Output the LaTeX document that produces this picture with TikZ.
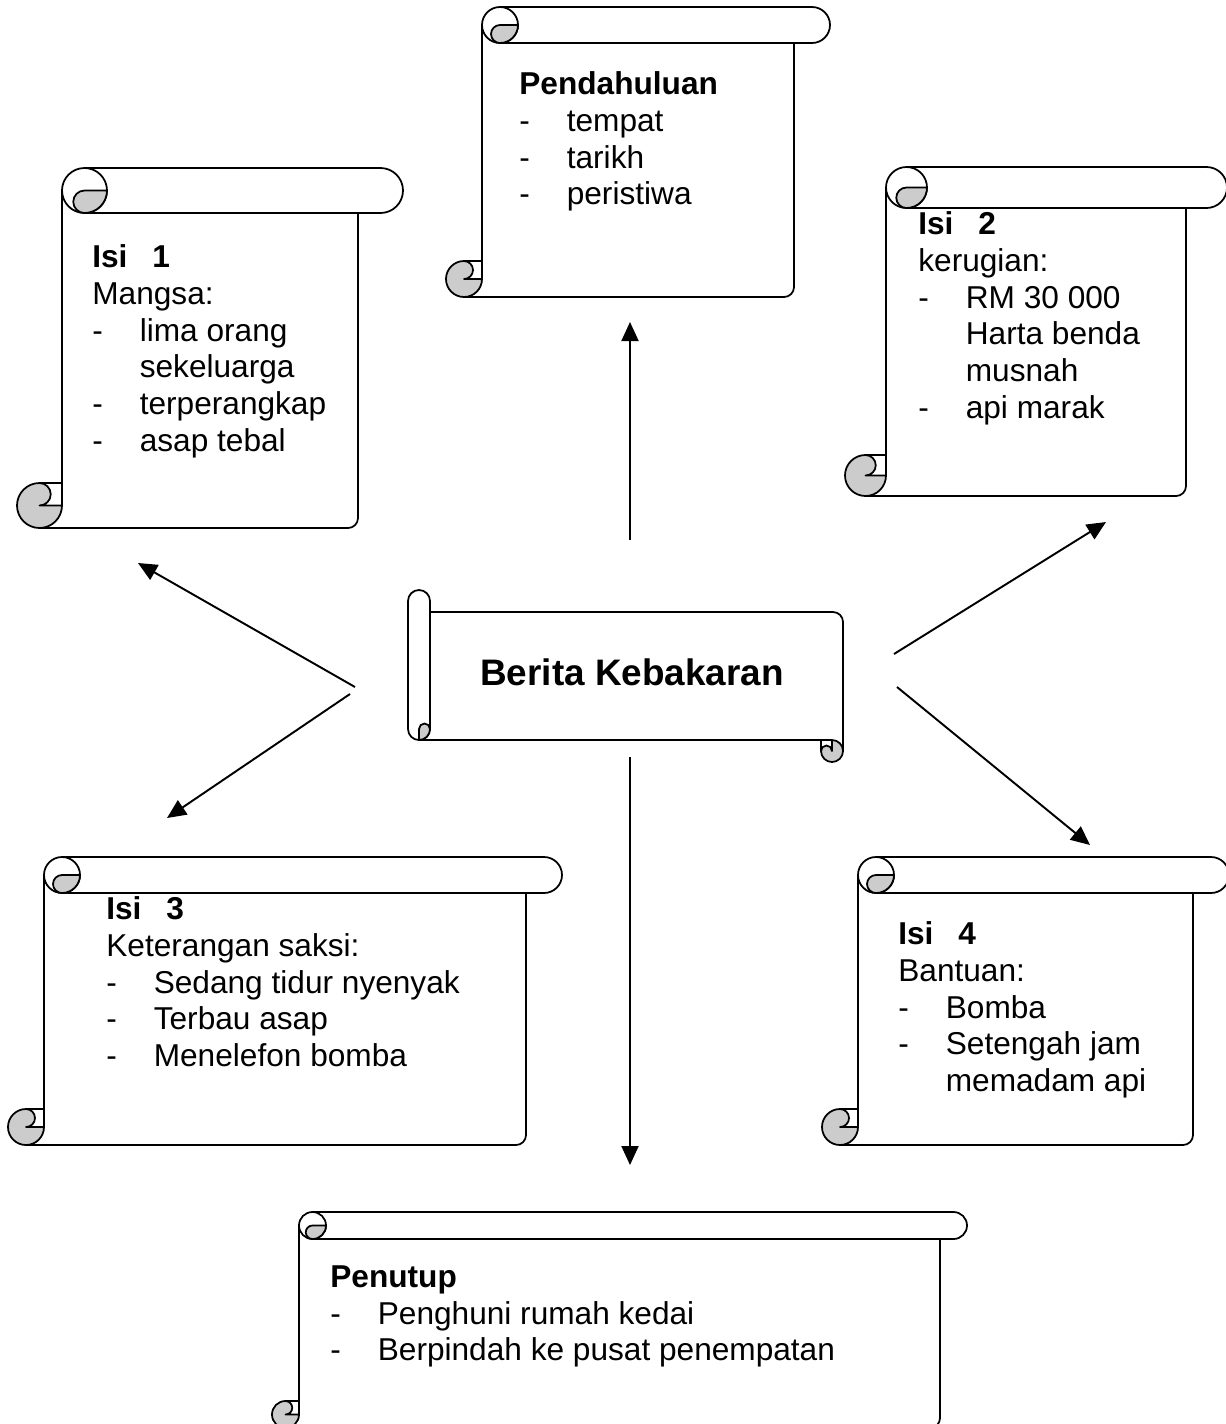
\documentclass[tikz,border=0pt]{standalone}
\usepackage{fontspec}
\setmainfont{Liberation Sans}
\usetikzlibrary{arrows.meta, positioning}
\definecolor{curlgray}{RGB}{204, 204, 204}

\newcommand{\itm}[1]{\makebox[0.95cm][l]{-}#1}
\newcommand{\cont}[1]{\hspace*{0.95cm}#1}
\newcommand{\isihead}[1]{\textbf{\makebox[1.2cm][l]{Isi}#1}}

% vertical scroll: left, top, right, bottom, roll radius (pixels, y down)
\newcommand{\vscroll}[5]{%
  \pgfmathsetmacro\scA{#1+#5}\pgfmathsetmacro\scB{#1+2*#5}\pgfmathsetmacro\scC{#1+3*#5}%
  \pgfmathsetmacro\scD{#3-#5}\pgfmathsetmacro\scE{#3-2*#5}\pgfmathsetmacro\scH{#5/2}%
  \pgfmathsetmacro\scP{-#2}\pgfmathsetmacro\scQ{-#2-#5}\pgfmathsetmacro\scR{-#2-2*#5}%
  \pgfmathsetmacro\scS{-#4+2*#5}\pgfmathsetmacro\scT{-#4+#5}\pgfmathsetmacro\scU{-#4}%
  \draw[scrollline] (\scB,\scQ) -- (\scB,\scT);
  \draw[scrollline, rounded corners=0.2cm] (\scA,\scU) -- (\scE,\scU) -- (\scE,\scR);
  \draw[scrollline] (\scC,\scP) -- (\scD,\scP) arc (90:-90:#5) -- (\scC,\scR);
  \draw[scrollline] (\scC,\scQ) circle (#5);
  \filldraw[scrollline, fill=curlgray] (\scC,\scQ) arc (90:270:\scH) arc (270:360:#5) -- cycle;
  \filldraw[scrollline, fill=curlgray] (\scB,\scT) arc (0:-270:#5) arc (90:-90:\scH) -- cycle;
  \draw[scrollline] (\scA,\scS) -- (\scB,\scS);
}

% horizontal scroll: left, top, right, bottom, roll radius (pixels, y down)
\newcommand{\hscroll}[5]{%
  \pgfmathsetmacro\scA{#1}\pgfmathsetmacro\scB{#1+#5}\pgfmathsetmacro\scC{#1+2*#5}%
  \pgfmathsetmacro\scD{#3-#5}\pgfmathsetmacro\scE{#3-2*#5}\pgfmathsetmacro\scF{#3}%
  \pgfmathsetmacro\scP{-#2-#5}\pgfmathsetmacro\scQ{-#2-2*#5}\pgfmathsetmacro\scR{-#4+3*#5}%
  \pgfmathsetmacro\scS{-#4+2*#5}\pgfmathsetmacro\scT{-#4+#5}\pgfmathsetmacro\scH{#5/2}%
  \draw[scrollline, rounded corners=0.2cm] (\scC,\scQ) -- (\scF,\scQ) -- (\scF,\scT);
  \draw[scrollline] (\scB,\scS) -- (\scD,\scS);
  \draw[scrollline] (\scE,\scS) -- (\scE,\scT);
  \filldraw[scrollline, fill=white] (\scA,\scP) arc (180:0:#5) -- (\scC,\scR) arc (0:-180:#5) -- cycle;
  \filldraw[scrollline, fill=curlgray] (\scB,\scR) arc (180:0:\scH) arc (0:-90:#5) -- cycle;
  \filldraw[scrollline, fill=curlgray] (\scD,\scS) arc (90:-180:#5) arc (180:0:\scH) -- cycle;
}

\begin{document}
\begin{tikzpicture}[x=0.02cm, y=0.02cm,
    scrollline/.style={line width=1pt, line join=round},
    txt/.style={font=\fontsize{18}{21}\selectfont, align=left, anchor=north west, inner sep=0pt},
    link/.style={line width=1.1pt, -{Triangle[length=0.38cm, width=0.34cm]}}]
  \useasboundingbox (0,0) rectangle (1225,-1424);

  % The scrolls
  \vscroll{446}{7}{830}{297}{18}
  \vscroll{17}{168}{403}{528}{22.5}
  \vscroll{845}{167}{1227}{496}{20.5}
  \vscroll{8}{857}{562}{1145}{18}
  \vscroll{822}{857}{1229}{1145}{18}
  \vscroll{272}{1212}{967}{1428}{13.5}
  \hscroll{408}{590}{843}{762}{11}

  % Title
  \node[font=\fontsize{21}{24}\selectfont\bfseries, inner sep=0pt] (title) at (632,-672) {Berita Kebakaran};

  % Texts
  \node[txt] (pendahuluan) at (519,-71) {\textbf{Pendahuluan}\\ \itm{tempat}\\ \itm{tarikh}\\ \itm{peristiwa}};
  \node[txt] (isi1) at (92,-244) {\isihead{1}\\ Mangsa:\\ \itm{lima orang}\\ \cont{sekeluarga}\\ \itm{terperangkap}\\ \itm{asap tebal}};
  \node[txt] (isi2) at (918,-211) {\isihead{2}\\ kerugian:\\ \itm{RM 30 000}\\ \cont{Harta benda}\\ \cont{musnah}\\ \itm{api marak}};
  \node[txt] (isi3) at (106,-896) {\isihead{3}\\ Keterangan saksi:\\ \itm{Sedang tidur nyenyak}\\ \itm{Terbau asap}\\ \itm{Menelefon bomba}};
  \node[txt] (isi4) at (898,-921) {\isihead{4}\\ Bantuan:\\ \itm{Bomba}\\ \itm{Setengah jam}\\ \cont{memadam api}};
  \node[txt] (penutup) at (330,-1265) {\textbf{Penutup}\\ \itm{Penghuni rumah kedai}\\ \itm{Berpindah ke pusat penempatan}};

  % Arrows
  \coordinate (upS) at (630,-540);
  \coordinate (upE) at (630,-322);
  \coordinate (downS) at (630,-757);
  \coordinate (downE) at (630,-1165);
  \coordinate (ulS) at (355,-687);
  \coordinate (ulE) at (138,-563);
  \coordinate (dlS) at (350,-694);
  \coordinate (dlE) at (167,-818);
  \coordinate (urS) at (894,-654);
  \coordinate (urE) at (1106,-522);
  \coordinate (drS) at (897,-687);
  \coordinate (drE) at (1090,-845);
  \draw[link] (upS) -- (upE);
  \draw[link] (downS) -- (downE);
  \draw[link] (ulS) -- (ulE);
  \draw[link] (dlS) -- (dlE);
  \draw[link] (urS) -- (urE);
  \draw[link] (drS) -- (drE);
\end{tikzpicture}
\end{document}
